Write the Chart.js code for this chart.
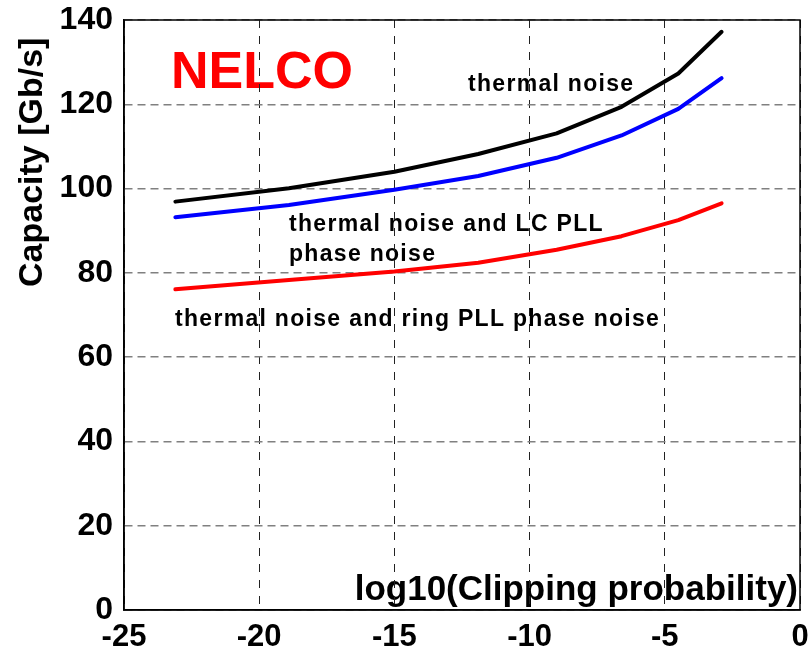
<!DOCTYPE html>
<html>
<head>
<meta charset="utf-8">
<script src="https://cdn.jsdelivr.net/npm/chart.js@4/dist/chart.umd.min.js"></script>
<style>
  body { margin: 0; background: #fff; }
  #wrap { width: 812px; height: 655px; }
</style>
</head>
<body>
<div id="wrap"><canvas id="capChart" width="812" height="655"></canvas></div>
<script>
// Data
const clipProb = [-23.1, -18.9, -15.0, -11.9, -9.0, -6.6, -4.5, -2.9];
const thermalOnly = [96.9, 100.1, 104.0, 108.2, 113.1, 119.4, 127.3, 137.2];
const thermalLC = [93.2, 96.1, 99.7, 103.0, 107.3, 112.6, 118.9, 126.2];
const thermalRing = [76.1, 78.3, 80.3, 82.4, 85.5, 88.7, 92.5, 96.5];
const xTicks = [-25, -20, -15, -10, -5, 0];
const yTicks = [0, 20, 40, 60, 80, 100, 120, 140];

const FONT = '"Liberation Sans", Arial, sans-serif';

function toPoints(ys) {
  return clipProb.map((x, i) => ({ x: x, y: ys[i] }));
}

function lineSet(label, ys, color) {
  return {
    label: label,
    data: toPoints(ys),
    borderColor: color,
    backgroundColor: color,
    borderWidth: 4,
    pointRadius: 0,
    tension: 0,
    borderCapStyle: 'round',
    borderJoinStyle: 'round'
  };
}

// Texts drawn under the grid, like the reference
const labelsPlugin = {
  id: 'labels',
  beforeDraw(chart) {
    const ctx = chart.ctx;
    ctx.save();
    ctx.textBaseline = 'alphabetic';
    ctx.textAlign = 'left';

    // y axis title
    ctx.save();
    ctx.translate(42, 287);
    ctx.rotate(-Math.PI / 2);
    ctx.fillStyle = '#000';
    ctx.font = 'bold 34px ' + FONT;
    ctx.fillText('Capacity [Gb/s]', 0, 0);
    ctx.restore();

    // NELCO
    ctx.fillStyle = '#ff0000';
    ctx.font = 'bold 52px ' + FONT;
    ctx.fillText('NELCO', 171, 88);

    // x axis title, inside the plot
    ctx.fillStyle = '#000';
    ctx.font = 'bold 35px ' + FONT;
    ctx.textAlign = 'right';
    ctx.fillText('log10(Clipping probability)', 798, 600);

    // curve annotations
    ctx.textAlign = 'left';
    ctx.font = 'bold 23px ' + FONT;
    ctx.letterSpacing = '1.3px';
    ctx.fillText('thermal noise', 468, 91);
    ctx.fillText('thermal noise and LC PLL', 289, 231);
    ctx.fillText('phase noise', 289, 261);
    ctx.fillText('thermal noise and ring PLL phase noise', 175, 326);
    ctx.restore();
  },
  afterDraw(chart) {
    const a = chart.chartArea;
    const ctx = chart.ctx;
    ctx.save();
    ctx.strokeStyle = '#000';
    ctx.lineWidth = 1.5;
    ctx.strokeRect(a.left, a.top, a.right - a.left, a.bottom - a.top);
    ctx.restore();
  }
};

new Chart(document.getElementById('capChart'), {
  type: 'line',
  data: {
    datasets: [
      lineSet('thermal noise', thermalOnly, '#000000'),
      lineSet('thermal noise and LC PLL phase noise', thermalLC, '#0000ff'),
      lineSet('thermal noise and ring PLL phase noise', thermalRing, '#ff0000')
    ]
  },
  options: {
    responsive: false,
    animation: false,
    layout: { padding: { left: 0, top: 20, right: 12, bottom: 0 } },
    plugins: {
      legend: { display: false },
      tooltip: { enabled: false }
    },
    scales: {
      x: {
        type: 'linear',
        min: -25,
        max: 0,
        afterBuildTicks: scale => { scale.ticks = xTicks.map(v => ({ value: v })); },
        afterFit: scale => {
          scale.height = 45;
          scale.paddingLeft = 0;
          scale.paddingRight = 0;
        },
        ticks: {
          color: '#000',
          padding: 9,
          font: { family: FONT, size: 31, weight: 'bold' }
        },
        grid: { color: '#222', lineWidth: 1, drawTicks: false },
        border: { display: true, color: '#000', width: 1.5, dash: [8, 8] }
      },
      y: {
        min: 0,
        max: 140,
        afterBuildTicks: scale => { scale.ticks = yTicks.map(v => ({ value: v })); },
        afterFit: scale => {
          scale.width = 124;
          scale.paddingTop = 0;
          scale.paddingBottom = 0;
        },
        ticks: {
          color: '#000',
          padding: 11,
          font: { family: FONT, size: 32, weight: 'bold' }
        },
        grid: { color: '#808080', lineWidth: 1.5, drawTicks: false },
        border: { display: true, color: '#000', width: 1.5, dash: [8, 5] }
      }
    }
  },
  plugins: [labelsPlugin]
});
</script>
</body>
</html>
